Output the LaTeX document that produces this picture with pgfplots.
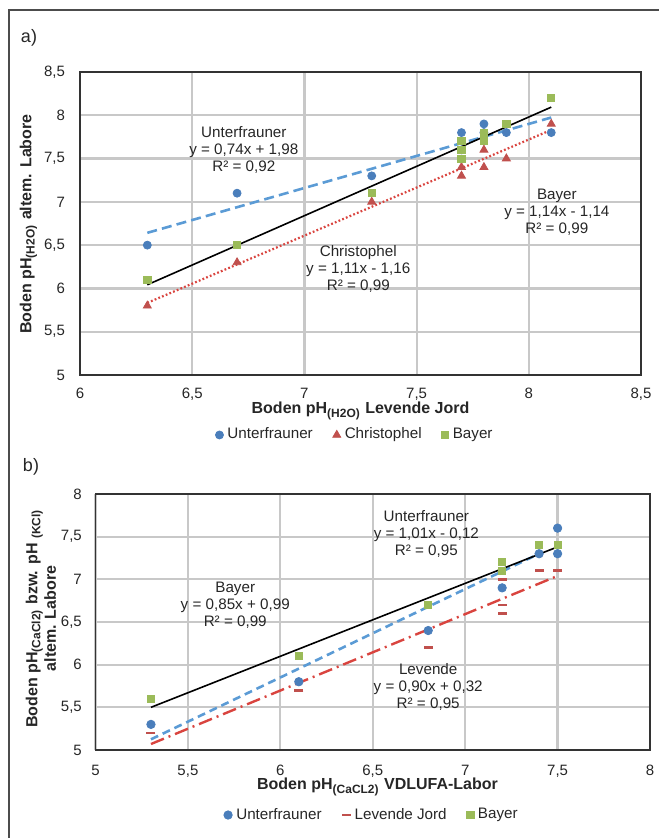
\documentclass[border=0pt]{standalone}
\usepackage{fontspec}
\setmainfont{Liberation Sans}
\usepackage{pgfplots}
\pgfplotsset{compat=1.18}

\definecolor{ublue}{HTML}{4A7EBB}
\definecolor{ubluel}{HTML}{5B9BD5}
\definecolor{cred}{HTML}{C0504D}
\definecolor{credl}{HTML}{D9443F}
\definecolor{bgreen}{HTML}{9BBB59}
\definecolor{gridgray}{HTML}{C8C8C8}
\definecolor{txt}{HTML}{262626}

\pgfplotsset{
  excel/.style={
    scale only axis,
    anchor=south west,
    xmajorgrids, ymajorgrids,
    major grid style={draw=gridgray, line width=1.1pt},
    axis line style={black!80, line width=0.7pt},
    major tick length=0pt,
    tick label style={font=\fontsize{7.5}{9}\selectfont, text=txt},
    /pgf/number format/assume math mode=true,
    /pgf/number format/use comma,
    /pgf/number format/1000 sep={},
    legend style={draw=none, fill=none, anchor=center,
      font=\fontsize{7.6}{9}\selectfont, text=txt,
      legend columns=3,
      /tikz/every even column/.append style={column sep=8pt}},
    legend image code/.code={\draw[mark repeat=1,##1] plot coordinates {(3pt,0pt)};},
  },
}
\tikzset{note/.style={font=\fontsize{7.6}{8.5}\selectfont, align=center, text=txt}}

\begin{document}
\begin{tikzpicture}
\useasboundingbox (0,0) rectangle (329.5pt,419pt);
\draw[black!70, line width=0.6pt] (4.5pt,0pt) -- (4.5pt,414pt) -- (329.5pt,414pt);

% ---------------- a) ----------------
\node[font=\fontsize{9}{10}\selectfont, text=txt] at (14.5pt,400pt) {a)};
\begin{axis}[excel,
    at={(40pt,231.5pt)},
    width=280.5pt, height=151.5pt,
    xmin=6, xmax=8.5, ymin=5, ymax=8.5,
    xtick={6,6.5,7,7.5,8,8.5},
    ytick={5,5.5,6,6.5,7,7.5,8,8.5},
    xticklabel style={yshift=-3.2pt},
    yticklabel style={xshift=-4pt},
    legend style={at={(0.492,-0.198)}},
]
\addplot[only marks, mark=*, mark size=2pt, color=ublue]
  coordinates {(6.3,6.5) (6.7,7.1) (7.3,7.3) (7.7,7.8) (7.7,7.6) (7.8,7.9)
               (7.8,7.8) (7.9,7.8) (8.1,7.8)};
\addlegendentry{Unterfrauner}
\addplot[only marks, mark=triangle*, mark size=2.3pt, color=cred]
  coordinates {(6.3,5.8) (6.7,6.3) (7.3,7.0) (7.7,7.4) (7.7,7.3) (7.8,7.6)
               (7.8,7.4) (7.9,7.5) (8.1,7.9)};
\addlegendentry{Christophel}
\addplot[only marks, mark=square*, mark size=1.8pt, color=bgreen]
  coordinates {(6.3,6.1) (6.7,6.5) (7.3,7.1) (7.7,7.7) (7.7,7.6) (7.7,7.5)
               (7.8,7.8) (7.8,7.7) (7.9,7.9) (8.1,8.2)};
\addlegendentry{Bayer}
% trend lines
\addplot[forget plot, ubluel, line width=1.3pt, dash pattern=on 5pt off 2.6pt]
  coordinates {(6.3,6.642) (8.1,7.974)};
\addplot[forget plot, credl, line width=1.1pt, dash pattern=on 0.9pt off 1.1pt]
  coordinates {(6.3,5.833) (8.1,7.831)};
\addplot[forget plot, black, line width=0.8pt]
  coordinates {(6.3,6.042) (8.1,8.094)};
\node[note] at (axis cs:6.73,7.60) {Unterfrauner\\y = 0,74x + 1,98\\R² = 0,92};
\node[note] at (axis cs:8.125,6.88) {Bayer\\y = 1,14x - 1,14\\R² = 0,99};
\node[note] at (axis cs:7.24,6.22) {Christophel\\y = 1,11x - 1,16\\R² = 0,99};
\end{axis}
\node[font=\bfseries\fontsize{8}{9}\selectfont, text=txt] at (180.25pt,213.5pt)
  {Boden pH\textsubscript{(H2O)} Levende Jord};
\node[font=\bfseries\fontsize{8}{9}\selectfont, text=txt, rotate=90] at (14.25pt,307pt)
  {Boden pH\textsubscript{(H2O)} altem. Labore};

% ---------------- b) ----------------
\node[font=\fontsize{9}{10}\selectfont, text=txt] at (15.5pt,185.5pt) {b)};
\begin{axis}[excel,
    at={(47.75pt,44pt)},
    width=277.25pt, height=128pt,
    xmin=5, xmax=8, ymin=5, ymax=8,
    xtick={5,5.5,6,6.5,7,7.5,8},
    ytick={5,5.5,6,6.5,7,7.5,8},
    xticklabel style={yshift=-4pt},
    yticklabel style={xshift=-3.3pt},
    legend style={at={(0.5,-0.254)}},
]
\addplot[only marks, mark=*, mark size=2.1pt, color=ublue]
  coordinates {(5.3,5.3) (6.1,5.8) (6.8,6.4) (7.2,6.9) (7.4,7.3) (7.5,7.6) (7.5,7.3)};
\addlegendentry{Unterfrauner}
\addplot[only marks, mark=-, mark size=2.25pt, color=cred, mark options={line width=1.35pt}]
  coordinates {(5.3,5.2) (6.1,5.7) (6.8,6.2) (7.2,7.0) (7.2,6.7) (7.2,6.6) (7.4,7.1) (7.5,7.1)};
\addlegendentry{Levende Jord}
\addplot[only marks, mark=square*, mark size=1.8pt, color=bgreen]
  coordinates {(5.3,5.6) (6.1,6.1) (6.8,6.7) (7.2,7.2) (7.2,7.1) (7.4,7.4) (7.5,7.4)};
\addlegendentry{Bayer}
% trend lines
\addplot[forget plot, ubluel, line width=1.3pt, dash pattern=on 4pt off 2.5pt]
  coordinates {(5.3,5.125) (7.4,7.3)};
\addplot[forget plot, credl, line width=1.2pt, dash pattern=on 7pt off 2.5pt on 1pt off 2.5pt]
  coordinates {(5.3,5.07) (7.5,7.04)};
\addplot[forget plot, black, line width=0.8pt]
  coordinates {(5.3,5.5) (7.5,7.38)};
\node[note] at (axis cs:6.79,7.53) {Unterfrauner\\y = 1,01x - 0,12\\R² = 0,95};
\node[note] at (axis cs:5.756,6.70) {Bayer\\y = 0,85x + 0,99\\R² = 0,99};
\node[note] at (axis cs:6.80,5.74) {Levende\\y = 0,90x + 0,32\\R² = 0,95};
\end{axis}
\node[font=\bfseries\fontsize{8}{9}\selectfont, text=txt] at (188.75pt,25.5pt)
  {Boden pH\textsubscript{(CaCL2)} VDLUFA-Labor};
\node[font=\bfseries\fontsize{8}{9.25}\selectfont, text=txt, rotate=90, align=center] at (20.4pt,109.75pt)
  {Boden pH\textsubscript{(CaCl2)} bzw. pH \textsubscript{(KCl)}\\altem. Labore};
\end{tikzpicture}
\end{document}
